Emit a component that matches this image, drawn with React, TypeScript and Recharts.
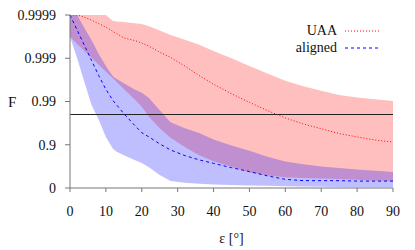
import React from 'react';
import { ComposedChart, Area, Line, XAxis, YAxis, ReferenceLine } from 'recharts';

// misorientation angle in degrees
const EPS = [0, 2, 4, 6, 8, 10, 12, 13, 15, 18, 20, 22, 25, 28, 32, 36, 40, 45, 50, 55, 60, 65, 70, 75, 80, 85, 90];

// values on the -log10(1 - F) scale (0 -> F=0, 1 -> 0.9, 2 -> 0.99, ...)
const UAA_HI = [4, 4, 4, 4, 4, 4, 3.86, 3.85, 3.84, 3.81, 3.79, 3.74, 3.64, 3.54, 3.43, 3.31, 3.17, 3.0, 2.82, 2.65, 2.48, 2.35, 2.25, 2.15, 2.09, 2.05, 2.01];
const UAA_MED = [4, 4, 3.95, 3.88, 3.8, 3.72, 3.62, 3.57, 3.47, 3.41, 3.35, 3.28, 3.14, 3.02, 2.82, 2.6, 2.4, 2.18, 1.98, 1.79, 1.62, 1.48, 1.37, 1.26, 1.18, 1.11, 1.06];
const UAA_LO = [3.49, 3.33, 3.17, 3.01, 2.85, 2.69, 2.53, 2.45, 2.29, 2.05, 1.88, 1.65, 1.38, 1.16, 0.95, 0.76, 0.62, 0.49, 0.36, 0.29, 0.25, 0.23, 0.22, 0.21, 0.19, 0.17, 0.16];

const ALIGNED_HI = [4, 4, 3.7, 3.42, 3.1, 2.82, 2.58, 2.52, 2.42, 2.28, 2.2, 2.08, 1.8, 1.52, 1.38, 1.27, 1.12, 0.98, 0.86, 0.72, 0.61, 0.55, 0.5, 0.46, 0.43, 0.4, 0.37];
const ALIGNED_MED = [4, 3.65, 3.3, 2.95, 2.6, 2.28, 2.02, 1.92, 1.72, 1.45, 1.28, 1.18, 1.02, 0.88, 0.75, 0.65, 0.57, 0.47, 0.38, 0.28, 0.2, 0.17, 0.17, 0.17, 0.16, 0.16, 0.16];
const ALIGNED_LO = [3.49, 3.0, 2.45, 1.92, 1.58, 1.18, 0.9, 0.84, 0.76, 0.65, 0.58, 0.48, 0.3, 0.16, 0.12, 0.1, 0.08, 0.07, 0.06, 0.05, 0.04, 0.035, 0.03, 0.025, 0.02, 0.02, 0.02];

const X_TICKS = [0, 10, 20, 30, 40, 50, 60, 70, 80, 90];
const Y_TICKS = [0, 1, 2, 3, 4];
const Y_LABELS = ['0', '0.9', '0.99', '0.999', '0.9999'];

// F = 0.98 threshold
const THRESHOLD = -Math.log10(1 - 0.98);

const data = EPS.map((eps, i) => ({
  eps,
  uaaBand: [UAA_LO[i], UAA_HI[i]],
  uaaMed: UAA_MED[i],
  alignedBand: [ALIGNED_LO[i], ALIGNED_HI[i]],
  alignedMed: ALIGNED_MED[i],
}));

const font = '"Liberation Serif", "DejaVu Serif", serif';
const tickStyle = { fontFamily: font, fontSize: 14, fill: '#111' };

function LegendOverlay() {
  return (
    <>
      <div
        style={{
          position: 'absolute',
          top: 22,
          left: 250,
          width: 87,
          textAlign: 'right',
          fontFamily: font,
          fontSize: 14,
          lineHeight: '17px',
          color: '#111',
        }}
      >
        <div>UAA</div>
        <div>aligned</div>
      </div>
      <svg style={{ position: 'absolute', top: 22, left: 345 }} width={36} height={34}>
        <line x1={0} x2={35} y1={9} y2={9} stroke="#ff0000" strokeWidth={1} strokeDasharray="1 2" />
        <line x1={0} x2={35} y1={26} y2={26} stroke="#0000ff" strokeWidth={1} strokeDasharray="3 3" />
      </svg>
    </>
  );
}

export default function App() {
  return (
    <div style={{ position: 'absolute', top: 0, left: 0, width: 415, height: 250, background: '#fff' }}>
      <ComposedChart width={415} height={250} data={data} margin={{ top: 15, right: 22, left: 0, bottom: 32 }}>
        <XAxis
          dataKey="eps"
          type="number"
          domain={[0, 90]}
          ticks={X_TICKS}
          tick={tickStyle}
          tickSize={4}
          tickMargin={14}
          height={30}
          axisLine={{ stroke: '#777' }}
          tickLine={{ stroke: '#777' }}
          label={{ value: 'ε [°]', position: 'bottom', offset: 15, style: { fontFamily: font, fontSize: 14, fill: '#111' } }}
        />
        <YAxis
          type="number"
          domain={[0, 4]}
          ticks={Y_TICKS}
          allowDataOverflow
          tickFormatter={(v: number) => Y_LABELS[v]}
          tick={tickStyle}
          tickSize={5}
          tickMargin={9}
          width={70}
          axisLine={{ stroke: '#777' }}
          tickLine={{ stroke: '#777' }}
          label={{ value: 'F', position: 'insideLeft', offset: 8, style: { fontFamily: font, fontSize: 15, fill: '#111' } }}
        />
        <Area dataKey="uaaBand" type="linear" stroke="none" fill="#ff0000" fillOpacity={0.25} isAnimationActive={false} activeDot={false} />
        <Area dataKey="alignedBand" type="linear" stroke="none" fill="#0000ff" fillOpacity={0.25} isAnimationActive={false} activeDot={false} />
        <ReferenceLine y={THRESHOLD} stroke="#222" strokeWidth={1.2} />
        <Line dataKey="uaaMed" type="linear" stroke="#ff0000" strokeWidth={1} strokeDasharray="1 2" dot={false} activeDot={false} isAnimationActive={false} />
        <Line dataKey="alignedMed" type="linear" stroke="#0000ff" strokeWidth={1} strokeDasharray="3 3" dot={false} activeDot={false} isAnimationActive={false} />
      </ComposedChart>
      <LegendOverlay />
    </div>
  );
}
